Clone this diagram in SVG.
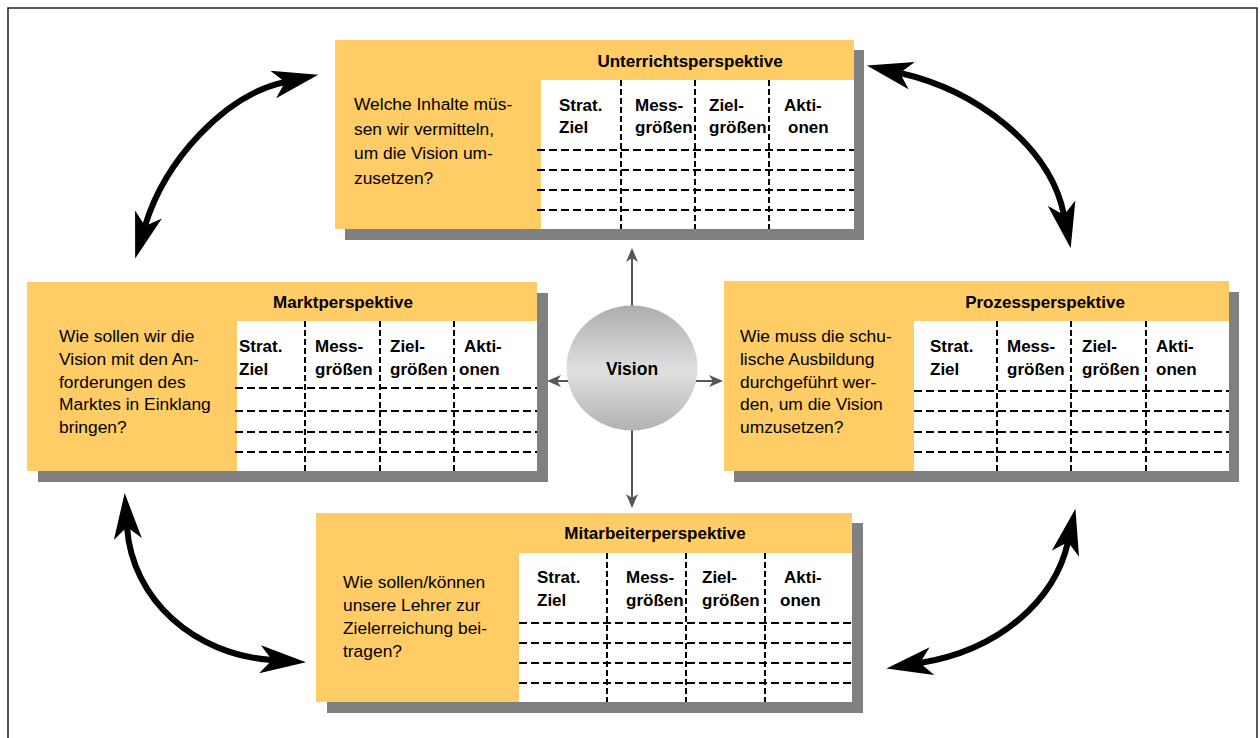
<svg xmlns="http://www.w3.org/2000/svg" width="1260" height="738" viewBox="0 0 1260 738">
<style>
.frame{fill:#fff;stroke:#222;stroke-width:1.5}
.shadow{fill:#808080}
.card{fill:#FFCC66}
.table{fill:#fff}
.vdash{stroke:#000;stroke-width:2;stroke-dasharray:6 3;fill:none}
.hdash{stroke:#000;stroke-width:2;stroke-dasharray:8 4;fill:none}
text{font-family:"Liberation Sans",Arial,sans-serif;fill:#000}
.title{font-size:17px;font-weight:bold;text-anchor:middle}
.q{font-size:17.4px}
.col{font-size:17px;font-weight:bold}
.big{fill:none;stroke:#000;stroke-width:6;marker-start:url(#bigHead);marker-end:url(#bigHead)}
.thin{fill:none;stroke:#555;stroke-width:2;marker-end:url(#smallHead)}
</style>
<defs>
<marker id="bigHead" viewBox="0 0 46 28" markerWidth="46" markerHeight="28" refX="12" refY="14" orient="auto-start-reverse" markerUnits="userSpaceOnUse">
<path d="M0,0 L46,14 L0,28 L12,14 Z" fill="#000"/>
</marker>
<marker id="smallHead" viewBox="0 0 14 14" markerWidth="14" markerHeight="14" refX="4" refY="7" orient="auto" markerUnits="userSpaceOnUse">
<path d="M0,1 L14,7 L0,13 L4,7 Z" fill="#555"/>
</marker>
<linearGradient id="visionGrad" x1="0" y1="0" x2="0" y2="1">
<stop offset="0" stop-color="#adadad"/>
<stop offset="0.52" stop-color="#e0e0e0"/>
<stop offset="1" stop-color="#b2b2b2"/>
</linearGradient>
</defs>
<rect class="frame" x="8" y="8" width="1249" height="740"/>

<g id="connectors">
<path class="big" d="M145 226 C165 160, 225 95, 285 82"/>
<path class="big" d="M900 73 C975 90, 1050 145, 1064 215"/>
<path class="big" d="M127 527 C132 600, 195 655, 272 660"/>
<path class="big" d="M1068 542 C1055 600, 1000 650, 920 663"/>
<path class="thin" d="M632 368 L632 258"/>
<path class="thin" d="M632 368 L632 498"/>
<path class="thin" d="M632 381 L557 381"/>
<path class="thin" d="M632 381 L713 381"/>
</g>

<g id="vision">
<ellipse cx="632" cy="368" rx="65.5" ry="62.5" fill="url(#visionGrad)"/>
<text x="632" y="375" style="font-size:17.5px;font-weight:bold;text-anchor:middle">Vision</text>
</g>

<g id="unterricht">
<rect class="shadow" x="345" y="50" width="519" height="190"/>
<rect class="card" x="335" y="40" width="519" height="189"/>
<rect class="table" x="541" y="80" width="313" height="149"/>
<path class="vdash" d="M621 80V229M695 80V229M769 80V229"/>
<path class="hdash" d="M537 150H854M537 170H854M537 190H854M537 210H854"/>
<text class="title" x="690" y="67">Unterrichtsperspektive</text>
<text class="q" x="354" y="110">Welche Inhalte müs-</text>
<text class="q" x="354" y="134.5">sen wir vermitteln,</text>
<text class="q" x="354" y="159">um die Vision um-</text>
<text class="q" x="354" y="183.5">zusetzen?</text>
<text class="col" x="559" y="111">Strat.</text>
<text class="col" x="559" y="133">Ziel</text>
<text class="col" x="635" y="111">Mess-</text>
<text class="col" x="635" y="133">größen</text>
<text class="col" x="709" y="111">Ziel-</text>
<text class="col" x="709" y="133">größen</text>
<text class="col" x="784" y="111">Akti-</text>
<text class="col" x="788" y="133">onen</text>
</g>

<g id="markt">
<rect class="shadow" x="38" y="293" width="510" height="189"/>
<rect class="card" x="27" y="282" width="510" height="189"/>
<rect class="table" x="237" y="321" width="300" height="150"/>
<path class="vdash" d="M305 321V471M380 321V471M454 321V471"/>
<path class="hdash" d="M235 388H537M235 411H537M235 432H537M235 452H537"/>
<text class="title" x="343" y="308">Marktperspektive</text>
<text class="q" x="59" y="342">Wie sollen wir die</text>
<text class="q" x="59" y="364.8">Vision mit den An-</text>
<text class="q" x="59" y="387.6">forderungen des</text>
<text class="q" x="59" y="410.4">Marktes in Einklang</text>
<text class="q" x="59" y="433.2">bringen?</text>
<text class="col" x="239" y="352">Strat.</text>
<text class="col" x="239" y="375">Ziel</text>
<text class="col" x="315" y="352">Mess-</text>
<text class="col" x="315" y="375">größen</text>
<text class="col" x="390" y="352">Ziel-</text>
<text class="col" x="390" y="375">größen</text>
<text class="col" x="464" y="352">Akti-</text>
<text class="col" x="459" y="375">onen</text>
</g>

<g id="prozess">
<rect class="shadow" x="734" y="292" width="505" height="190"/>
<rect class="card" x="724" y="281" width="505" height="190"/>
<rect class="table" x="914" y="321" width="315" height="150"/>
<path class="vdash" d="M997 321V471M1071 321V471M1146 321V471"/>
<path class="hdash" d="M914 391H1229M914 411H1229M914 432H1229M914 452H1229"/>
<text class="title" x="1045" y="308">Prozessperspektive</text>
<text class="q" x="740" y="342">Wie muss die schu-</text>
<text class="q" x="740" y="364.8">lische Ausbildung</text>
<text class="q" x="740" y="387.6">durchgeführt wer-</text>
<text class="q" x="740" y="410.4">den, um die Vision</text>
<text class="q" x="740" y="433.2">umzusetzen?</text>
<text class="col" x="930" y="352">Strat.</text>
<text class="col" x="930" y="375">Ziel</text>
<text class="col" x="1007" y="352">Mess-</text>
<text class="col" x="1007" y="375">größen</text>
<text class="col" x="1082" y="352">Ziel-</text>
<text class="col" x="1082" y="375">größen</text>
<text class="col" x="1156" y="352">Akti-</text>
<text class="col" x="1156" y="375">onen</text>
</g>

<g id="mitarbeiter">
<rect class="shadow" x="327" y="523" width="536" height="190"/>
<rect class="card" x="316" y="513" width="536" height="189"/>
<rect class="table" x="519" y="553" width="333" height="149"/>
<path class="vdash" d="M607 553V702M686 553V702M765 553V702"/>
<path class="hdash" d="M519 623H852M519 643H852M519 663H852M519 683H852"/>
<text class="title" x="655" y="539">Mitarbeiterperspektive</text>
<text class="q" x="343" y="588">Wie sollen/können</text>
<text class="q" x="343" y="611">unsere Lehrer zur</text>
<text class="q" x="343" y="634">Zielerreichung bei-</text>
<text class="q" x="343" y="657">tragen?</text>
<text class="col" x="537" y="583">Strat.</text>
<text class="col" x="537" y="606">Ziel</text>
<text class="col" x="626" y="583">Mess-</text>
<text class="col" x="626" y="606">größen</text>
<text class="col" x="702" y="583">Ziel-</text>
<text class="col" x="702" y="606">größen</text>
<text class="col" x="784" y="583">Akti-</text>
<text class="col" x="780" y="606">onen</text>
</g>
</svg>
